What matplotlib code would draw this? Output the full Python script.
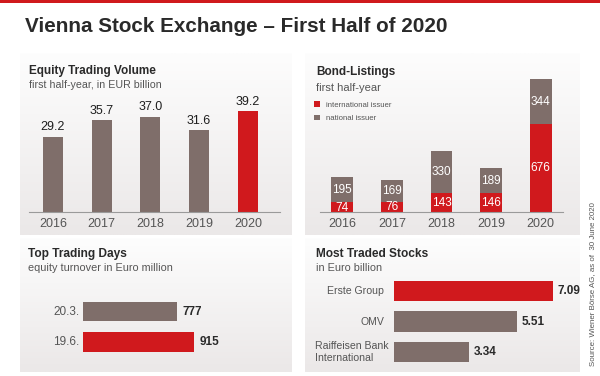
import matplotlib
matplotlib.use("Agg")
import matplotlib.pyplot as plt
import numpy as np
from matplotlib.patches import Rectangle
from matplotlib.colors import LinearSegmentedColormap

plt.rcParams['font.family'] = ['Liberation Sans', 'DejaVu Sans']

# data
years = ["2016", "2017", "2018", "2019", "2020"]
equity_volume = [29.2, 35.7, 37.0, 31.6, 39.2]
bond_international = [74, 76, 143, 146, 676]
bond_national = [195, 169, 330, 189, 344]
top_days = ["20.3.", "19.6."]
top_days_turnover = [777, 915]
stocks = ["Erste Group", "OMV", "Raiffeisen Bank\nInternational"]
stocks_value = [7.09, 5.51, 3.34]

RED = "#d0191d"
BROWN = "#7f6e6a"
DARK = "#2a2a2a"
GREY = "#555555"

W, H = 600, 376
fig = plt.figure(figsize=(6, 3.76), dpi=100)
fig.patch.set_facecolor("white")


def rect(x0, y0, x1, y1):
    # pixel box (top-left origin) -> figure fraction
    return [x0 / W, 1 - y1 / H, (x1 - x0) / W, (y1 - y0) / H]


def ftext(x, y, s, **kw):
    fig.text(x / W, 1 - y / H, s, **kw)


# top red line
fig.add_artist(Rectangle((0, 1 - 3 / H), 1, 3 / H, transform=fig.transFigure,
                         color=RED, lw=0))
ftext(25, 26, "Vienna Stock Exchange \u2013 First Half of 2020", fontsize=14.9,
      fontweight="bold", color=DARK, va="center", ha="left")

# panel backgrounds with a soft gradient
grad = np.linspace(0, 1, 100).reshape(-1, 1)
cmap = LinearSegmentedColormap.from_list("bg", ["#fdfdfd", "#ebe8e8"])
for box in [(20, 53, 292, 235), (305, 53, 580, 235), (20, 238, 292, 372), (305, 238, 580, 372)]:
    bg = fig.add_axes(rect(*box), zorder=0)
    bg.imshow(grad, aspect="auto", cmap=cmap, extent=[0, 1, 0, 1], origin="upper")
    bg.axis("off")

# ---- Equity trading volume
ftext(29, 71, "Equity Trading Volume", fontsize=8.5, fontweight="bold", color=DARK, va="center")
ftext(29, 85, "first half-year, in EUR billion", fontsize=7.7, color=GREY, va="center")
ax1 = fig.add_axes(rect(29, 100, 280, 212), zorder=2)
ax1.patch.set_alpha(0)
x = np.arange(len(years))
cols = [BROWN] * 4 + [RED]
ax1.bar(x, equity_volume, width=0.41, color=cols)
for xi, v in zip(x, equity_volume):
    ax1.text(xi, v + 3.6, f"{v:.1f}", ha="center", va="center", fontsize=9, color="#1e1e1e")
ax1.set_xlim(-0.49, 4.66)
ax1.set_ylim(0, 43.4)
ax1.set_yticks([])
ax1.set_xticks(x, years)
ax1.tick_params(axis="x", length=0, pad=4, labelsize=9, labelcolor=GREY)
for s in ["top", "left", "right"]:
    ax1.spines[s].set_visible(False)
ax1.spines["bottom"].set_color("#9a9a9a")
ax1.spines["bottom"].set_linewidth(0.8)

# ---- Bond listings
ftext(316, 72, "Bond-Listings", fontsize=8.5, fontweight="bold", color=DARK, va="center")
ftext(316, 88, "first half-year", fontsize=8, color=GREY, va="center")
ax2 = fig.add_axes(rect(320, 75, 563, 212), zorder=2)
ax2.patch.set_alpha(0)
b1 = ax2.bar(x, bond_international, width=0.44, color=RED, label="international issuer")
b2 = ax2.bar(x, bond_national, width=0.44, bottom=bond_international, color=BROWN,
             label="national issuer")
for xi, a, b in zip(x, bond_international, bond_national):
    ax2.text(xi, a / 2 if a > 100 else a / 2 - 3, str(a), ha="center", va="center",
             fontsize=8.5, color="white")
    ax2.text(xi, a + b / 2, str(b), ha="center", va="center", fontsize=8.5, color="white")
ax2.set_xlim(-0.45, 4.45)
ax2.set_ylim(0, 1054)
ax2.set_yticks([])
ax2.set_xticks(x, years)
ax2.tick_params(axis="x", length=0, pad=4, labelsize=9, labelcolor=GREY)
for s in ["top", "left", "right"]:
    ax2.spines[s].set_visible(False)
ax2.spines["bottom"].set_color("#9a9a9a")
ax2.spines["bottom"].set_linewidth(0.8)
ax2.legend(handles=[b1, b2], loc="upper left", bbox_to_anchor=(314 / W, 1 - 101 / H),
           bbox_transform=fig.transFigure, frameon=False, fontsize=5.6, labelcolor=GREY,
           handlelength=0.8, handleheight=0.8, handletextpad=0.7, labelspacing=0.75,
           borderpad=0, borderaxespad=0)

# ---- Top trading days
ftext(28, 254, "Top Trading Days", fontsize=8.6, fontweight="bold", color=DARK, va="center")
ftext(28, 268, "equity turnover in Euro million", fontsize=7.8, color=GREY, va="center")
ax3 = fig.add_axes(rect(83, 290, 230, 365), zorder=2)
ax3.axis("off")
y3 = np.arange(len(top_days))
ax3.barh(y3, top_days_turnover, height=0.63, color=[BROWN, RED])
for yi, v, lab in zip(y3, top_days_turnover, top_days):
    ax3.text(v + 45, yi, str(v), ha="left", va="center", fontsize=8.5,
             fontweight="bold", color=DARK)
    ax3.text(-30, yi, lab, ha="right", va="center", fontsize=8.5, color=GREY)
ax3.set_xlim(0, 1215)
ax3.set_ylim(1.754, -0.705)

# ---- Most traded stocks
ftext(316, 254, "Most Traded Stocks", fontsize=8.6, fontweight="bold", color=DARK, va="center")
ftext(316, 268, "in Euro billion", fontsize=7.8, color=GREY, va="center")
ax4 = fig.add_axes(rect(394, 275, 580, 370), zorder=2)
ax4.axis("off")
y4 = np.arange(len(stocks))
ax4.barh(y4, stocks_value, height=0.66, color=[RED, BROWN, BROWN])
for yi, v, lab in zip(y4, stocks_value, stocks):
    ax4.text(v + 0.2, yi, f"{v:.2f}", ha="left", va="center", fontsize=8.5,
             fontweight="bold", color=DARK)
    if "\n" in lab:
        # multi-line label is left aligned at the panel margin
        ax4.text(-(394 - 315) / 22.4, yi, lab, ha="left", va="center",
                 fontsize=7.6, color=GREY, linespacing=1.25)
    else:
        ax4.text(-0.45, yi, lab, ha="right", va="center", fontsize=7.6, color=GREY)
ax4.set_xlim(0, 8.3)
ax4.set_ylim(2.59, -0.525)

ftext(593, 284, "Source: Wiener B\u00f6rse AG, as of  30 June 2020", fontsize=5.7,
      color=GREY, rotation=90, ha="center", va="center")

fig.savefig("out.png", dpi=100)
